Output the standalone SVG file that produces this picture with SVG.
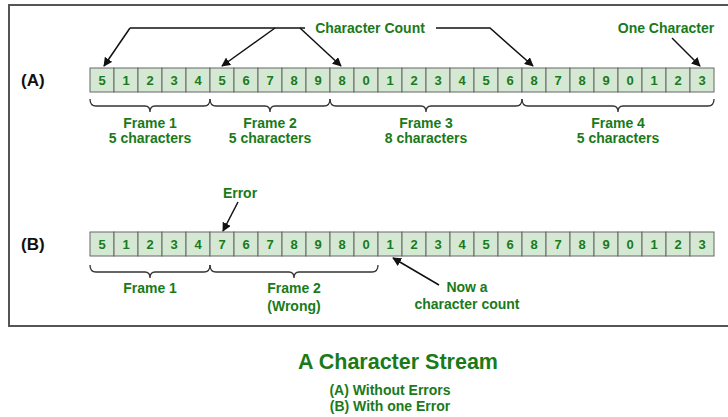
<svg xmlns="http://www.w3.org/2000/svg" width="728" height="417" viewBox="0 0 728 417">
<defs>
<marker id="ah" viewBox="0 0 10 10" refX="9" refY="5" markerWidth="9" markerHeight="9" markerUnits="userSpaceOnUse" orient="auto">
<path d="M0,0 L10,5 L0,10 z" fill="#111"/>
</marker>
<style>
.cell rect{fill:#d5e8d4;stroke:#666;stroke-width:1}
.cell text{font-family:"Liberation Sans",Arial,sans-serif;font-weight:bold;font-size:13px;fill:#1a7a1a;text-anchor:middle}
.lbl{font-family:"Liberation Sans",Arial,sans-serif;font-weight:bold;font-size:14px;fill:#1a7a1a;text-anchor:middle}
.row{font-family:"Liberation Sans",Arial,sans-serif;font-weight:bold;font-size:17px;fill:#111}
.brace{fill:none;stroke:#333;stroke-width:1.3}
.conn{fill:none;stroke:#111;stroke-width:1.5}
.arr{fill:none;stroke:#111;stroke-width:1.5;marker-end:url(#ah)}
</style>
</defs>
<rect x="9" y="5" width="730" height="321" fill="#fff" stroke="#555" stroke-width="2"/>

<text class="row" x="21" y="86">(A)</text>
<text class="row" x="21" y="250">(B)</text>

<g id="rowA" class="cell">
<rect x="90" y="68" width="24" height="24"/><text x="102" y="85">5</text>
<rect x="114" y="68" width="24" height="24"/><text x="126" y="85">1</text>
<rect x="138" y="68" width="24" height="24"/><text x="150" y="85">2</text>
<rect x="162" y="68" width="24" height="24"/><text x="174" y="85">3</text>
<rect x="186" y="68" width="24" height="24"/><text x="198" y="85">4</text>
<rect x="210" y="68" width="24" height="24"/><text x="222" y="85">5</text>
<rect x="234" y="68" width="24" height="24"/><text x="246" y="85">6</text>
<rect x="258" y="68" width="24" height="24"/><text x="270" y="85">7</text>
<rect x="282" y="68" width="24" height="24"/><text x="294" y="85">8</text>
<rect x="306" y="68" width="24" height="24"/><text x="318" y="85">9</text>
<rect x="330" y="68" width="24" height="24"/><text x="342" y="85">8</text>
<rect x="354" y="68" width="24" height="24"/><text x="366" y="85">0</text>
<rect x="378" y="68" width="24" height="24"/><text x="390" y="85">1</text>
<rect x="402" y="68" width="24" height="24"/><text x="414" y="85">2</text>
<rect x="426" y="68" width="24" height="24"/><text x="438" y="85">3</text>
<rect x="450" y="68" width="24" height="24"/><text x="462" y="85">4</text>
<rect x="474" y="68" width="24" height="24"/><text x="486" y="85">5</text>
<rect x="498" y="68" width="24" height="24"/><text x="510" y="85">6</text>
<rect x="522" y="68" width="24" height="24"/><text x="534" y="85">8</text>
<rect x="546" y="68" width="24" height="24"/><text x="558" y="85">7</text>
<rect x="570" y="68" width="24" height="24"/><text x="582" y="85">8</text>
<rect x="594" y="68" width="24" height="24"/><text x="606" y="85">9</text>
<rect x="618" y="68" width="24" height="24"/><text x="630" y="85">0</text>
<rect x="642" y="68" width="24" height="24"/><text x="654" y="85">1</text>
<rect x="666" y="68" width="24" height="24"/><text x="678" y="85">2</text>
<rect x="690" y="68" width="24" height="24"/><text x="702" y="85">3</text>
</g>

<g id="rowB" class="cell">
<rect x="90" y="232" width="24" height="24"/><text x="102" y="249">5</text>
<rect x="114" y="232" width="24" height="24"/><text x="126" y="249">1</text>
<rect x="138" y="232" width="24" height="24"/><text x="150" y="249">2</text>
<rect x="162" y="232" width="24" height="24"/><text x="174" y="249">3</text>
<rect x="186" y="232" width="24" height="24"/><text x="198" y="249">4</text>
<rect x="210" y="232" width="24" height="24"/><text x="222" y="249">7</text>
<rect x="234" y="232" width="24" height="24"/><text x="246" y="249">6</text>
<rect x="258" y="232" width="24" height="24"/><text x="270" y="249">7</text>
<rect x="282" y="232" width="24" height="24"/><text x="294" y="249">8</text>
<rect x="306" y="232" width="24" height="24"/><text x="318" y="249">9</text>
<rect x="330" y="232" width="24" height="24"/><text x="342" y="249">8</text>
<rect x="354" y="232" width="24" height="24"/><text x="366" y="249">0</text>
<rect x="378" y="232" width="24" height="24"/><text x="390" y="249">1</text>
<rect x="402" y="232" width="24" height="24"/><text x="414" y="249">2</text>
<rect x="426" y="232" width="24" height="24"/><text x="438" y="249">3</text>
<rect x="450" y="232" width="24" height="24"/><text x="462" y="249">4</text>
<rect x="474" y="232" width="24" height="24"/><text x="486" y="249">5</text>
<rect x="498" y="232" width="24" height="24"/><text x="510" y="249">6</text>
<rect x="522" y="232" width="24" height="24"/><text x="534" y="249">8</text>
<rect x="546" y="232" width="24" height="24"/><text x="558" y="249">7</text>
<rect x="570" y="232" width="24" height="24"/><text x="582" y="249">8</text>
<rect x="594" y="232" width="24" height="24"/><text x="606" y="249">9</text>
<rect x="618" y="232" width="24" height="24"/><text x="630" y="249">0</text>
<rect x="642" y="232" width="24" height="24"/><text x="654" y="249">1</text>
<rect x="666" y="232" width="24" height="24"/><text x="678" y="249">2</text>
<rect x="690" y="232" width="24" height="24"/><text x="702" y="249">3</text>
</g>

<g id="braces">
<path class="brace" d="M90 99 Q90 106 96 106 H145 Q150 106 150 112 Q150 106 155 106 H204 Q210 106 210 99"/>
<path class="brace" d="M210 99 Q210 106 216 106 H265 Q270 106 270 112 Q270 106 275 106 H324 Q330 106 330 99"/>
<path class="brace" d="M330 99 Q330 106 336 106 H421 Q426 106 426 112 Q426 106 431 106 H516 Q522 106 522 99"/>
<path class="brace" d="M522 99 Q522 106 528 106 H613 Q618 106 618 112 Q618 106 623 106 H708 Q714 106 714 99"/>
<path class="brace" d="M90 265 Q90 272 96 272 H145 Q150 272 150 278 Q150 272 155 272 H204 Q210 272 210 265"/>
<path class="brace" d="M210 265 Q210 272 216 272 H289 Q294 272 294 278 Q294 272 299 272 H372 Q378 272 378 265"/>
</g>

<g id="labels">
<text class="lbl" x="150" y="128">Frame 1</text>
<text class="lbl" x="150" y="143">5 characters</text>
<text class="lbl" x="270" y="128">Frame 2</text>
<text class="lbl" x="270" y="143">5 characters</text>
<text class="lbl" x="426" y="128">Frame 3</text>
<text class="lbl" x="426" y="143">8 characters</text>
<text class="lbl" x="618" y="128">Frame 4</text>
<text class="lbl" x="618" y="143">5 characters</text>
<text class="lbl" x="150" y="293">Frame 1</text>
<text class="lbl" x="294" y="293">Frame 2</text>
<text class="lbl" x="294" y="311">(Wrong)</text>
<text class="lbl" x="370" y="33">Character Count</text>
<text class="lbl" x="666" y="33">One Character</text>
<text class="lbl" x="240" y="198">Error</text>
<text class="lbl" x="467" y="292">Now a</text>
<text class="lbl" x="467" y="309">character count</text>
</g>

<g id="connectors">
<path class="conn" d="M130 28 H305"/>
<path class="arr" d="M130 28 L104 66"/>
<path class="arr" d="M275 28 L222 66"/>
<path class="arr" d="M300 28 L341 66"/>
<path class="arr" d="M436 28 H490 L533 66"/>
<path class="arr" d="M672 38 L700 66"/>
<path class="arr" d="M238 202 L223 231"/>
<path class="arr" d="M439 285 L393 258"/>
</g>

<text x="398" y="369" font-family="'Liberation Sans',Arial,sans-serif" font-weight="bold" font-size="21.5" fill="#1a7a1a" text-anchor="middle">A Character Stream</text>
<text class="lbl" x="390" y="395">(A) Without Errors</text>
<text class="lbl" x="390" y="411">(B) With one Error</text>
</svg>
